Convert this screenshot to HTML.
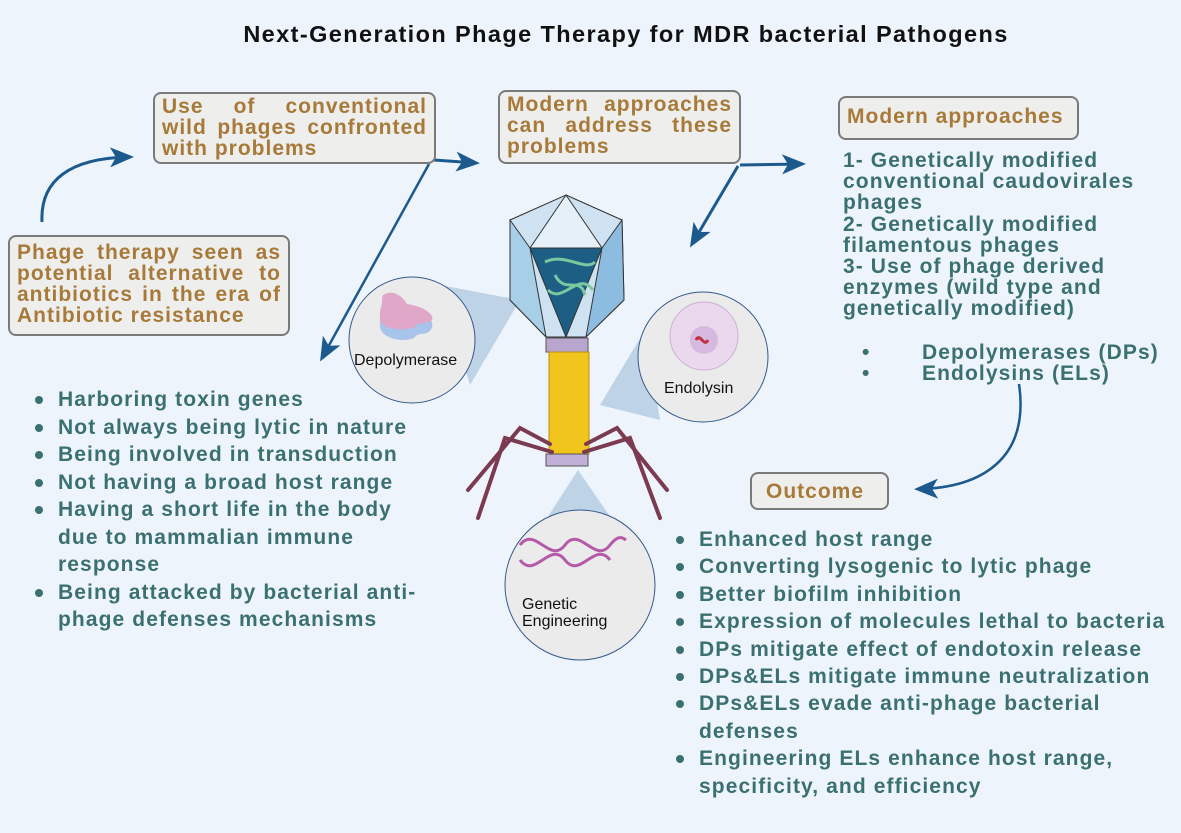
<!DOCTYPE html>
<html><head><meta charset="utf-8"><style>
body{margin:0;width:1181px;height:833px;background:#eef4fc;position:relative;overflow:hidden;font-family:"Liberation Sans",sans-serif}
.t{position:absolute;white-space:nowrap}
.box{position:absolute;background:#eeeeec;border:2px solid #7a7a7a;border-radius:8px;box-sizing:border-box;color:#a87a3a;font-weight:bold;font-size:21px;letter-spacing:1px;line-height:21px;padding:2px 7px;text-align:justify;text-align-last:left}
.tl{position:absolute;color:#3b7070;font-weight:bold;font-size:21px;letter-spacing:1.1px;white-space:nowrap}
.ul{position:absolute;color:#3b7070;font-weight:bold;font-size:21px;letter-spacing:1.1px;margin:0;padding:0;list-style:none}
.ul li{position:relative;padding-left:23px}
.ul li:before{content:"";position:absolute;left:0;top:10px;width:8px;height:8px;border-radius:50%;background:#3b7070}
</style></head><body>
<div class="t" style="left:0;width:1252px;text-align:center;top:21px;font-size:23.5px;letter-spacing:1.4px;font-weight:bold;color:#111">Next-Generation Phage Therapy for MDR bacterial Pathogens</div>

<svg width="1181" height="833" style="position:absolute;left:0;top:0">
<defs>
<marker id="b" markerWidth="24" markerHeight="20" refX="20" refY="10" orient="auto" markerUnits="userSpaceOnUse"><path d="M0,0 L24,10 L0,20 L6,10 Z" fill="#1c5a8e"/></marker></defs>
<path d="M42,222 C40,180 70,158 130,157" stroke="#1c5a8e" stroke-width="3" fill="none" marker-end="url(#b)"/>
<path d="M434,160 L476,163" stroke="#1c5a8e" stroke-width="3" fill="none" marker-end="url(#b)"/>
<path d="M429,164 L322,358" stroke="#1c5a8e" stroke-width="2.5" fill="none" marker-end="url(#b)"/>
<path d="M740,165 L802,164" stroke="#1c5a8e" stroke-width="3" fill="none" marker-end="url(#b)"/>
<path d="M738,166 L692,244" stroke="#1c5a8e" stroke-width="3" fill="none" marker-end="url(#b)"/>
<path d="M1019,384 C1030,460 980,488 918,489" stroke="#1c5a8e" stroke-width="2.5" fill="none" marker-end="url(#b)"/>
<!-- callout wedges -->
<polygon points="440,285 520,300 470,385" fill="#a9c4dc" opacity=".7"/>
<polygon points="645,330 600,405 660,420" fill="#a9c4dc" opacity=".7"/>
<polygon points="578,470 520,560 640,560" fill="#a9c4dc" opacity=".7"/>
<!-- circles -->
<circle cx="412" cy="340" r="63" fill="#ebebeb" stroke="#345a8a" stroke-width="1"/>
<path d="M382,300 c10,-8 20,0 25,8 c15,2 28,10 25,20 c-6,10 -12,2 -18,10 c-10,4 -25,2 -32,-6 c-6,-10 2,-22 0,-32z" fill="#a9c4ea"/>
<path d="M382,296 c10,-8 20,0 25,8 c15,2 28,10 25,16 c-6,6 -14,0 -18,8 c-10,2 -25,2 -32,-4 c-6,-10 2,-20 0,-28z" fill="#e0a7c8"/>
<circle cx="703" cy="357" r="65" fill="#ebebeb" stroke="#345a8a" stroke-width="1"/>
<circle cx="704" cy="336" r="34" fill="#ead8ec" stroke="#cdb0d8"/>
<circle cx="704" cy="340" r="14" fill="#d6b9de"/>
<path d="M696,340 c4,-8 8,8 12,0" stroke="#c03040" stroke-width="3" fill="none"/>
<circle cx="580" cy="585" r="75" fill="#ebebeb" stroke="#345a8a" stroke-width="1"/>
<path d="M520,545 c15,-20 30,20 45,0 c15,-20 30,20 45,0 c8,-10 12,-8 16,-5" stroke="#b45aa8" stroke-width="3" fill="none"/>
<path d="M520,560 c15,20 30,-20 45,0 c15,20 30,-20 45,0" stroke="#b45aa8" stroke-width="3" fill="none"/>
<!-- phage head -->
<polygon points="566,195 622,220 624,300 586,337 546,337 510,300 510,220" fill="#cfe2f2" stroke="#333" stroke-width="1"/>
<polygon points="530,248 602,248 566,337" fill="#1d5f84" stroke="#333"/>
<polygon points="566,195 530,248 602,248" fill="#e6f0f8" stroke="#333"/>
<polygon points="602,248 622,220 624,300 586,337" fill="#8cbde0" stroke="#333"/>
<polygon points="530,248 510,220 510,300 546,337" fill="#a8cfe8" stroke="#333"/>
<path d="M545,262 c20,-10 40,10 50,0 M548,290 c15,15 30,-20 45,0 M555,275 c10,20 25,0 30,20" stroke="#7ac8a0" stroke-width="3" fill="none"/>
<!-- collar/tail -->
<rect x="546" y="338" width="42" height="14" fill="#b8a6cf" stroke="#555"/>
<rect x="549" y="352" width="40" height="102" fill="#f2c51c" stroke="#b89010"/>
<rect x="546" y="454" width="42" height="12" fill="#c0b0d8" stroke="#555"/>
<g stroke="#7c3a50" stroke-width="4" fill="none" stroke-linecap="round">
<path d="M550,444 L520,428 L468,490"/><path d="M552,452 L505,438 L478,518"/>
<path d="M586,444 L617,428 L667,490"/><path d="M584,452 L630,438 L660,518"/>
</g>
</svg>

<div class="t" style="left:354px;top:352px;font-size:16px;color:#111">Depolymerase</div>
<div class="t" style="left:664px;top:380px;font-size:16px;color:#111">Endolysin</div>
<div class="t" style="left:522px;top:596px;font-size:16px;line-height:17px;color:#111">Genetic<br>Engineering</div>

<div class="box" style="left:153px;top:92px;width:283px;height:72px">Use of conventional wild phages confronted with problems</div>
<div class="box" style="left:498px;top:90px;width:243px;height:74px">Modern approaches can address these problems</div>
<div class="box" style="left:838px;top:96px;width:241px;height:44px;padding-top:8px">Modern approaches</div>
<div class="box" style="left:8px;top:235px;width:282px;height:101px;padding-top:5px">Phage therapy seen as potential alternative to antibiotics in the era of Antibiotic resistance</div>
<div class="box" style="left:750px;top:472px;width:139px;height:38px;padding:7px 14px">Outcome</div>

<div class="tl" style="left:843px;top:150px;line-height:21.2px">1- Genetically modified<br>conventional caudovirales<br>phages<br>2- Genetically modified<br>filamentous phages<br>3- Use of phage derived<br>enzymes (wild type and<br>genetically modified)</div>
<div class="tl" style="left:862px;top:342px;line-height:21px">•<br>•</div>
<div class="tl" style="left:922px;top:342px;line-height:21px">Depolymerases (DPs)<br>Endolysins (ELs)</div>

<ul class="ul" style="left:35px;top:386px;line-height:27.5px">
<li>Harboring toxin genes</li><li>Not always being lytic in nature</li><li>Being involved in transduction</li><li>Not having a broad host range</li><li>Having a short life in the body<br>due to mammalian immune<br>response</li><li>Being attacked by bacterial anti-<br>phage defenses mechanisms</li></ul>

<ul class="ul" style="left:676px;top:526px;line-height:27.4px">
<li>Enhanced host range</li><li>Converting lysogenic to lytic phage</li><li>Better biofilm inhibition</li><li>Expression of molecules lethal to bacteria</li><li>DPs mitigate effect of endotoxin release</li><li>DPs&amp;ELs mitigate immune neutralization</li><li>DPs&amp;ELs evade anti-phage bacterial<br>defenses</li><li>Engineering ELs enhance host range,<br>specificity, and efficiency</li></ul>
</body></html>
